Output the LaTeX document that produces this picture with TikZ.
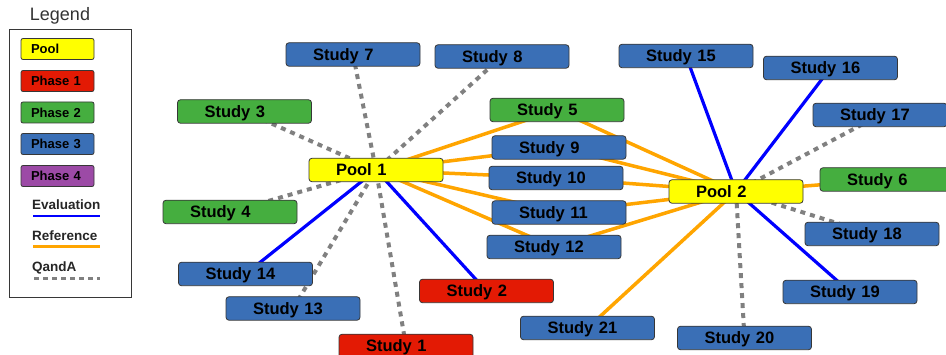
\documentclass[tikz,border=0pt]{standalone}
\usepackage{fontspec}
\setmainfont{Liberation Sans}
\usetikzlibrary{backgrounds}

\definecolor{boxblue}{RGB}{58,111,182}
\definecolor{boxgreen}{RGB}{69,174,63}
\definecolor{boxred}{RGB}{227,26,4}
\definecolor{boxpurple}{RGB}{156,74,166}
\definecolor{boxyellow}{RGB}{255,255,0}
\definecolor{edgeline}{RGB}{55,55,55}
\definecolor{evalblue}{RGB}{0,0,255}
\definecolor{reforange}{RGB}{255,165,0}
\definecolor{qagray}{RGB}{128,128,128}

\tikzset{
  card/.style={rectangle, rounded corners=3pt, draw=edgeline, line width=0.8pt,
    minimum height=23.5pt, inner ysep=0pt, inner xsep=27pt, text width=80pt,
    text height=15pt, text depth=3pt,
    align=left, font=\bfseries\fontsize{16.5}{17}\selectfont, text=black},
  pool/.style={card, fill=boxyellow},
  ph1/.style={card, fill=boxred},
  ph2/.style={card, fill=boxgreen},
  ph3/.style={card, fill=boxblue},
  legcard/.style={rectangle, rounded corners=2pt, draw=edgeline, line width=0.8pt,
    minimum height=21pt, inner ysep=0pt, inner xsep=10pt, text width=53pt,
    text height=12pt, text depth=2.6pt,
    align=left, font=\bfseries\fontsize{13}{14}\selectfont},
  legtext/.style={anchor=west, inner sep=0pt, font=\bfseries\fontsize{13.5}{14}\selectfont, text=black!85},
  evalline/.style={evalblue, line width=3.2pt},
  refline/.style={reforange, line width=3.5pt},
  qaline/.style={qagray, line width=4pt, dash pattern=on 5pt off 5pt},
}

\begin{document}
\begin{tikzpicture}[x=1pt, y=-1pt]
\useasboundingbox (0,0) rectangle (946,355);

% ---------- legend ----------
\node[font=\fontsize{18}{19}\selectfont, text=black!80] (legtitle) at (60,16) {Legend};
\node[draw=edgeline, line width=0.8pt, minimum width=122pt, minimum height=268pt, inner sep=0pt] (legframe) at (70,163) {};
\node[legcard, fill=boxyellow] (lpool) at (57.5,49) {Pool};
\node[legcard, fill=boxred] (lph1) at (57.5,81) {Phase 1};
\node[legcard, fill=boxgreen] (lph2) at (57.5,112.5) {Phase 2};
\node[legcard, fill=boxblue] (lph3) at (57.5,144) {Phase 3};
\node[legcard, fill=boxpurple] (lph4) at (57.5,176) {Phase 4};
\node[legtext] (leval) at (32,205) {Evaluation};
\node[legtext] (lref) at (32,236) {Reference};
\node[legtext] (lqa) at (32,267.5) {QandA};
\coordinate (ea) at (33,216);  \coordinate (eb) at (100,216);
\coordinate (ra) at (33,247);  \coordinate (rb) at (100,247);
\coordinate (qa) at (34,279);  \coordinate (qb) at (100,279);
\draw[evalblue, line width=2.5pt] (ea) -- (eb);
\draw[reforange, line width=3pt] (ra) -- (rb);
\draw[qagray, line width=3pt, dash pattern=on 5pt off 4pt] (qa) -- (qb);

% ---------- pools ----------
\node[pool] (p1) at (376,170) {Pool 1};
\node[pool] (p2) at (736,191.5) {Pool 2};

% ---------- studies ----------
\node[ph1] (s1) at (406,346) {Study 1};
\node[ph1] (s2) at (486.5,291) {Study 2};
\node[ph2] (s3) at (244.5,111.5) {Study 3};
\node[ph2] (s4) at (230,212) {Study 4};
\node[ph2] (s5) at (557,110) {Study 5};
\node[ph2] (s6) at (887,179.5) {Study 6};
\node[ph3] (s7) at (353,54.5) {Study 7};
\node[ph3] (s8) at (502,56.5) {Study 8};
\node[ph3] (s9) at (559,147.5) {Study 9};
\node[ph3] (s10) at (556,178) {Study 10};
\node[ph3] (s11) at (559,212.5) {Study 11};
\node[ph3] (s12) at (554,247) {Study 12};
\node[ph3] (s13) at (293,308.5) {Study 13};
\node[ph3] (s14) at (245.5,274) {Study 14};
\node[ph3] (s15) at (686,56) {Study 15};
\node[ph3] (s16) at (830.5,68) {Study 16};
\node[ph3] (s17) at (880,115) {Study 17};
\node[ph3] (s18) at (872,234) {Study 18};
\node[ph3] (s19) at (850,292) {Study 19};
\node[ph3] (s20) at (744.5,338) {Study 20};
\node[ph3] (s21) at (587.5,328) {Study 21};

% ---------- connectors ----------
\begin{scope}[on background layer]
  % Pool 1
  \draw[qaline] (s7.center) -- (p1.center);
  \draw[qaline] (s8.center) -- (p1.center);
  \draw[qaline] (s3.center) -- (p1.center);
  \draw[qaline] (s4.center) -- (p1.center);
  \draw[qaline] (s13.center) -- (p1.center);
  \draw[qaline] (s1.center) -- (p1.center);
  \draw[evalline] (s14.center) -- (p1.center);
  \draw[evalline] (s2.center) -- (p1.center);
  \foreach \s in {s5,s9,s10,s11,s12} {
    \draw[refline] (p1.center) -- (\s.center);
    \draw[refline] (\s.center) -- (p2.center);
  }
  % Pool 2
  \draw[evalline] (s15.center) -- (p2.center);
  \draw[evalline] (s16.center) -- (p2.center);
  \draw[evalline] (s19.center) -- (p2.center);
  \draw[qaline] (s17.center) -- (p2.center);
  \draw[qaline] (s18.center) -- (p2.center);
  \draw[qaline] (s20.center) -- (p2.center);
  \draw[refline] (s6.center) -- (p2.center);
  \draw[refline] (s21.center) -- (p2.center);
\end{scope}
\end{tikzpicture}
\end{document}
